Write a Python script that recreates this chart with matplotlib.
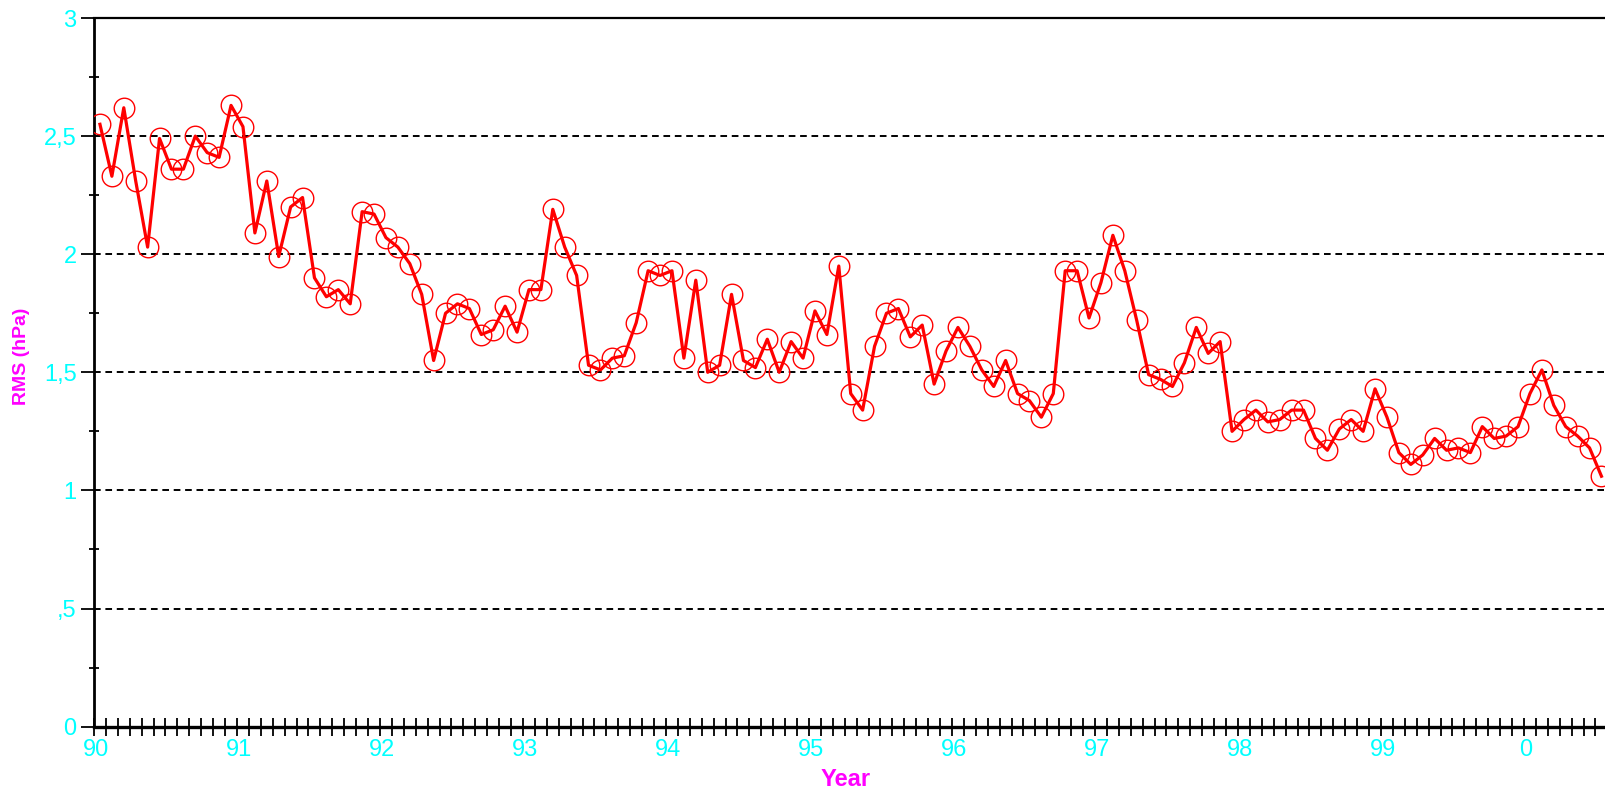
import numpy as np
import matplotlib
matplotlib.use('Agg')
import matplotlib.pyplot as plt
from matplotlib.ticker import FixedLocator, FixedFormatter
import matplotlib.transforms as mtransforms

# monthly RMS of surface pressure (hPa), Jan 1990 .. Jul 2000
rms_1990 = [2.55, 2.33, 2.62, 2.31, 2.03, 2.49, 2.36, 2.36, 2.50, 2.43, 2.41, 2.63]
rms_1991 = [2.54, 2.09, 2.31, 1.99, 2.20, 2.24, 1.90, 1.82, 1.85, 1.79, 2.18, 2.17]
rms_1992 = [2.07, 2.03, 1.96, 1.83, 1.55, 1.75, 1.79, 1.77, 1.66, 1.68, 1.78, 1.67]
rms_1993 = [1.85, 1.85, 2.19, 2.03, 1.91, 1.53, 1.51, 1.56, 1.57, 1.71, 1.93, 1.91]
rms_1994 = [1.93, 1.56, 1.89, 1.50, 1.53, 1.83, 1.55, 1.52, 1.64, 1.50, 1.63, 1.56]
rms_1995 = [1.76, 1.66, 1.95, 1.41, 1.34, 1.61, 1.75, 1.77, 1.65, 1.70, 1.45, 1.59]
rms_1996 = [1.69, 1.61, 1.51, 1.44, 1.55, 1.41, 1.38, 1.31, 1.41, 1.93, 1.93, 1.73]
rms_1997 = [1.88, 2.08, 1.93, 1.72, 1.49, 1.47, 1.44, 1.54, 1.69, 1.58, 1.63, 1.25]
rms_1998 = [1.30, 1.34, 1.29, 1.30, 1.34, 1.34, 1.22, 1.17, 1.26, 1.30, 1.25, 1.43]
rms_1999 = [1.31, 1.16, 1.11, 1.15, 1.22, 1.17, 1.18, 1.16, 1.27, 1.22, 1.23, 1.27]
rms_2000 = [1.41, 1.51, 1.36, 1.27, 1.23, 1.18, 1.06]

year_ticks = list(range(90, 101))
year_labels = ['90', '91', '92', '93', '94', '95', '96', '97', '98', '99', '0']
y_ticks = [0, 0.5, 1, 1.5, 2, 2.5, 3]
y_labels = ['0', ',5', '1', '1,5', '2', '2,5', '3']

rms = np.array(rms_1990 + rms_1991 + rms_1992 + rms_1993 + rms_1994 + rms_1995
               + rms_1996 + rms_1997 + rms_1998 + rms_1999 + rms_2000)
month = np.arange(len(rms))
x = 90 + (month + 0.5) / 12

plt.rcParams['lines.scale_dashes'] = False
tick_font = ['Liberation Sans Narrow', 'Liberation Sans', 'DejaVu Sans']
label_font = ['Liberation Sans', 'DejaVu Sans']

W, H = 1606, 792
fig = plt.figure(figsize=(W / 100, H / 100), dpi=100)
ax = fig.add_axes([94 / W, 65.4 / H, 1512 / W, 708.6 / H])

ax.set_xlim(90, 90 + 1512 / 143)
ax.set_ylim(0, 3)

# dashed horizontal grid
for g in [0.5, 1, 1.5, 2, 2.5]:
    ax.axhline(g, color='black', lw=1.4, dashes=(4.8, 3.4), zorder=1)

ax.plot(x, rms, color='red', lw=2.3, zorder=3)
ax.plot(x, rms, ls='none', marker='o', markersize=14.8, markerfacecolor='none',
        markeredgecolor='red', markeredgewidth=1.0, zorder=4)

ax.spines['right'].set_visible(False)
ax.spines['top'].set_linewidth(1.6)
ax.spines['left'].set_linewidth(2.0)
ax.spines['bottom'].set_linewidth(2.4)
for side in ['top', 'left', 'bottom']:
    ax.spines[side].set_color('black')

# x axis: labelled years, a tick every month
ax.xaxis.set_major_locator(FixedLocator(year_ticks))
ax.xaxis.set_major_formatter(FixedFormatter(year_labels))
ax.xaxis.set_minor_locator(FixedLocator([90 + k / 12 for k in range(0, 127)]))
ax.tick_params(axis='x', which='both', direction='inout', length=13.5,
               width=1.3, color='black', labelcolor='#00FFFF', labelsize=17, pad=2)

# y axis
ax.yaxis.set_major_locator(FixedLocator(y_ticks))
ax.yaxis.set_major_formatter(FixedFormatter(y_labels))
ax.yaxis.set_minor_locator(FixedLocator([0.25, 0.75, 1.25, 1.75, 2.25, 2.75]))
ax.tick_params(axis='y', which='major', direction='out', length=9.5, width=1.3,
               color='black', labelcolor='#00FFFF', labelsize=17, pad=3)
ax.tick_params(axis='y', which='minor', direction='inout', length=7.5, width=1.3,
               color='black')

shift = mtransforms.ScaledTranslation(2 / 100, 0, fig.dpi_scale_trans)
for lab in ax.get_xticklabels() + ax.get_yticklabels():
    lab.set_family(tick_font)
for lab in ax.get_xticklabels():
    lab.set_transform(lab.get_transform() + shift)

fig.text(22 / W, 1 - 356 / H, 'RMS (hPa)', rotation=90, ha='center', va='center',
         color='#FF00FF', fontsize=14, fontweight='bold', family=label_font)
fig.text(846 / W, 1 - 780 / H, 'Year', ha='center', va='center',
         color='#FF00FF', fontsize=17, fontweight='bold', family=label_font)

fig.savefig('out.png', dpi=100, facecolor='white')
